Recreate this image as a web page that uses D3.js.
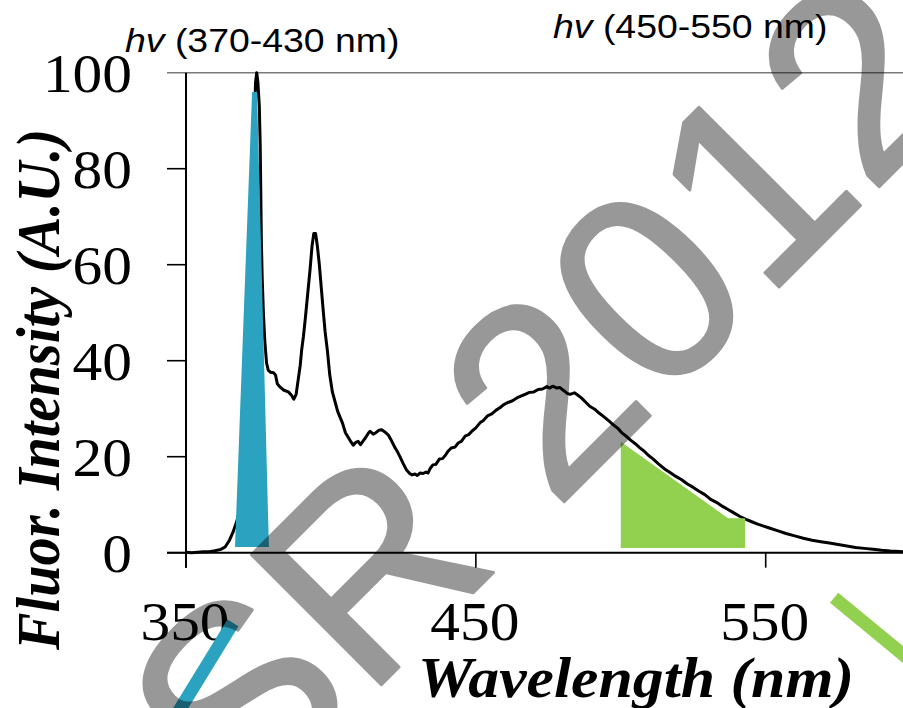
<!DOCTYPE html>
<html><head><meta charset="utf-8">
<script src="https://cdn.jsdelivr.net/npm/d3@7"></script>
<style>html,body{margin:0;padding:0;background:#fff;}svg{display:block;}</style>
</head><body>
<svg id="chart" width="903" height="708"></svg>
<script>
// ---------- data ----------
const wavelength = [350,352,354,356,358,360,362,363.5,365,366.3,367.5,368.5,369.5,370.5,371.3,372,372.7,373.2,373.6,374,374.4,374.8,375.3,375.6,375.8,376.0,376.3,376.7,377.2,377.8,378.4,379.2,380.2,380.9,381.5,382.3,383.6,385.3,386.4,387.2,388,388.7,389.4,389.9,390.5,391.2,392,392.8,393.5,394.1,394.7,395.3,396,396.7,397.4,398,398.8,399.6,400.5,401.4,402.3,403.1,404,405,406,406.8,407.7,408.6,409.4,410.2,411,412,413,413.5,414.6,415.5,416.5,417.5,418.5,419.8,421,422,422.8,423.8,424.9,426,427.2,428,429,429.8,430.8,431.8,432.8,433.5,434.3,435.2,436.2,437.4,438.5,439.5,440.5,441.5,442.8,444,445,446.3,447.5,448.8,450,451.5,452.5,454,455.5,457,458.3,459.5,461,462.5,464,465.5,467,468.5,470,471.5,473,474.5,475.5,476.5,478,479,480.5,481.5,482.5,484,485,486.5,488,489.3,491,492.5,494,496,497.5,499,500.5,502,503.5,505,506.5,508,509.5,511,513,515,517,519,521,523,525,527,529,531,533,535,537,539,541,543,545,547,549,551,554,557,560,563,566,569,572,575,578,581,584,587,590,593,596,600];
const intensity = [0.1,0.0,0.1,0.2,0.2,0.4,0.7,1.2,2.6,4.4,6.5,9,13,20,30,42,58,75,90,98,100,98,93,85,75,65,57,50,44,39.5,38,37.6,37.5,37,35.2,34.6,33.9,33.5,32.8,32.0,33,36,39,42.2,45,49,54,59,64,66.5,66.5,64,60,55,50,46,42,37,33.5,31.5,29.5,28.3,27,25,24,23.2,22.4,23,23.2,22.5,23.2,24,25,25.3,24.7,25,25.5,25.6,25.2,24.5,23.2,22,21.2,20,18.6,17.3,16.5,16.2,16.4,16.1,16.6,16.5,16.8,16.6,17.6,18.3,18.4,19.5,19.6,20.3,21.2,21.8,22.0,22.9,23.2,24.3,24.6,25.4,26.0,27.1,27.5,28.5,28.9,29.7,30.2,30.8,31.3,31.6,32.2,32.6,33.0,33.4,33.5,34.0,34.1,34.6,34.3,34.7,34.3,34.4,33.7,33.2,33.0,33.3,32.9,32.2,31.3,30.5,29.9,29.1,28.4,27.4,26.6,25.9,24.9,24.2,23.4,22.7,21.9,21.2,20.3,19.6,18.5,17.5,16.7,15.9,15.2,14.3,13.6,12.8,12.1,11.1,10.5,9.7,9.0,8.3,7.6,7.0,6.5,6.0,5.6,5.2,4.6,4.0,3.5,3.0,2.6,2.3,2.0,1.7,1.4,1.1,0.9,0.7,0.5,0.35,0.25,0.15];

// excitation band (blue) and detection band (green) polygons, in data units
const blueBandX = [366.9, 372.8, 374.5, 378.6];
const blueBandY = [1.2, 96, 96, 1.2];
const greenBandX = [500, 500, 537, 542.9, 542.9];
const greenBandY = [1.0, 23.1, 7.2, 7.2, 1.0];

const xTicks = [350, 450, 550];
const xTickLabels = ["350", "450", "550"];
const yTicks = [0, 20, 40, 60, 80, 100];
const yTickLabels = ["0", "20", "40", "60", "80", "100"];

const xTitle = "Wavelength (nm)";
const yTitle = "Fluor. Intensity (A.U.)";
const topLabels = [
  {hv: "hv", rest: " (370-430 nm)"},
  {hv: "hv", rest: " (450-550 nm)"}
];
const watermark = "SR 2012";

// decorative coloured strokes (data units)
const decoBlue = [[366.2, -14.6], [346.0, -34.5]];
const decoGreen = [[573.6, -9.4], [607, -26]];

// ---------- drawing ----------
const svg = d3.select("#chart");
const x = d3.scaleLinear().domain([350, 600]).range([186, 186 + 250 * 2.8985]);
const y = d3.scaleLinear().domain([0, 100]).range([552.7, 72.7]);

const serif = "'Liberation Serif','Times New Roman',Times,serif";
const sans = "'Liberation Sans',Arial,Helvetica,sans-serif";
const blue = "#2ba3c0";
const green = "#92d050";

// grey top reference line at 100
svg.append("line")
  .attr("x1", 167).attr("x2", 903)
  .attr("y1", y(100)).attr("y2", y(100))
  .attr("stroke", "#7a7a7a").attr("stroke-width", 1.5);

// spectrum
const spec = wavelength.map((w, i) => [w, intensity[i]]);
svg.append("path")
  .attr("d", d3.line().x(d => x(d[0])).y(d => y(d[1]))(spec))
  .attr("fill", "none").attr("stroke", "#000")
  .attr("stroke-width", 3).attr("stroke-linejoin", "round");

// bands (drawn over the spectrum)
const poly = d3.line().x(d => x(d[0])).y(d => y(d[1]));
svg.append("path")
  .attr("d", poly(blueBandX.map((v, i) => [v, blueBandY[i]])) + "Z")
  .attr("fill", blue);
svg.append("path")
  .attr("d", poly(greenBandX.map((v, i) => [v, greenBandY[i]])) + "Z")
  .attr("fill", green);

// axes
const axG = svg.append("g").attr("stroke", "#000").attr("stroke-width", 2);
axG.append("line").attr("x1", 167).attr("x2", 903).attr("y1", y(0)).attr("y2", y(0));
axG.append("line").attr("x1", x(350)).attr("x2", x(350)).attr("y1", y(100)).attr("y2", y(0) + 15);
yTicks.forEach(t => {
  if (t === 100) return;
  axG.append("line").attr("x1", 167).attr("x2", x(350)).attr("y1", y(t)).attr("y2", y(t)).attr("stroke-width", 1.6);
});
xTicks.forEach(t => {
  axG.append("line").attr("x1", x(t)).attr("x2", x(t)).attr("y1", y(0)).attr("y2", y(0) + 15).attr("stroke-width", 1.6);
});

// tick labels
yTicks.forEach((t, i) => {
  svg.append("text")
    .attr("transform", `translate(132,${y(t) + 19}) scale(1.1,1)`)
    .attr("text-anchor", "end")
    .attr("font-family", serif).attr("font-size", 54)
    .text(yTickLabels[i]);
});
xTicks.forEach((t, i) => {
  svg.append("text")
    .attr("transform", `translate(${x(t) - 1},640) scale(1.1,1)`)
    .attr("text-anchor", "middle")
    .attr("font-family", serif).attr("font-size", 54)
    .text(xTickLabels[i]);
});

// axis titles
svg.append("text")
  .attr("x", 418).attr("y", 697)
  .attr("font-family", serif).attr("font-size", 57)
  .attr("font-weight", "bold").attr("font-style", "italic")
  .attr("textLength", 436).attr("lengthAdjust", "spacingAndGlyphs")
  .text(xTitle);
svg.append("text")
  .attr("transform", "translate(59,650) scale(1.1,1) rotate(-90)")
  .attr("font-family", serif).attr("font-size", 56)
  .attr("font-weight", "bold").attr("font-style", "italic")
  .attr("textLength", 521).attr("lengthAdjust", "spacingAndGlyphs")
  .text(yTitle);

// top labels
const topPos = [[125, 52], [553, 38]];
topLabels.forEach((l, i) => {
  const t = svg.append("text")
    .attr("transform", `translate(${topPos[i][0]},${topPos[i][1]}) scale(1.1,1)`)
    .attr("font-family", sans).attr("font-size", 34).attr("fill", "#000");
  t.append("tspan").attr("font-style", "italic").text(l.hv);
  t.append("tspan").text(l.rest);
});

// decorative strokes
[[decoBlue, blue], [decoGreen, green]].forEach(([seg, c]) => {
  svg.append("line")
    .attr("x1", x(seg[0][0])).attr("y1", y(seg[0][1]))
    .attr("x2", x(seg[1][0])).attr("y2", y(seg[1][1]))
    .attr("stroke", c).attr("stroke-width", 13);
});

// watermark (translucent, composited as one layer)
svg.append("g").attr("opacity", 0.4)
  .append("text")
  .attr("transform", "translate(240,826) rotate(-45)")
  .attr("font-family", sans).attr("font-size", 267)
  .attr("fill", "#000").attr("stroke", "#000").attr("stroke-width", 3)
  .attr("stroke-linejoin", "round")
  .attr("xml:space", "preserve")
  .text(watermark);
</script>
</body></html>
